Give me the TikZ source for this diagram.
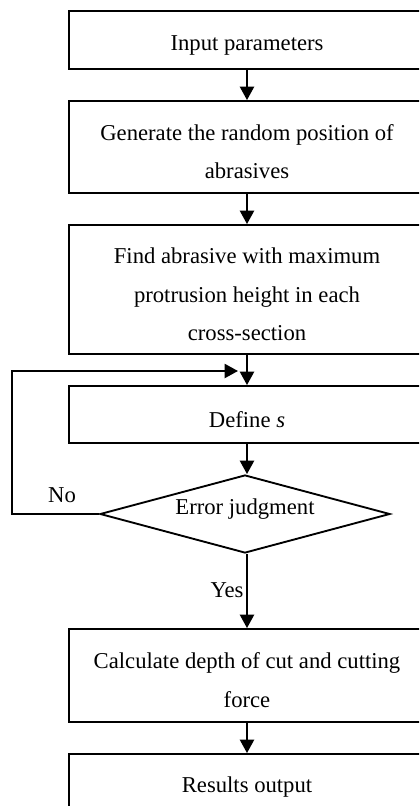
\documentclass[tikz,border=0pt]{standalone}
\usepackage{fontspec}
\setmainfont{Liberation Serif}
\usetikzlibrary{shapes.geometric,arrows.meta}
\newcommand{\topgap}{\rule{0pt}{19pt}}
\begin{document}
\begin{tikzpicture}[x=0.75pt,y=-0.75pt,
  every node/.style={font=\fontsize{17}{29}\selectfont},
  stepbox/.style={draw,line width=1.4pt,rectangle,minimum width=267pt,inner sep=0pt,align=center},
  decision/.style={draw,line width=1.4pt,diamond,aspect=3.72,minimum width=217.5pt,minimum height=58.5pt,inner sep=0pt,text height=11.5pt,text depth=11.5pt},
  flow/.style={line width=1.6pt,-{Triangle[length=10pt,width=10.5pt]}},
  lbl/.style={inner sep=0pt}]
\useasboundingbox (0,0) rectangle (419,806);
\clip (0,0) rectangle (419,806);
\node[stepbox,minimum height=43.5pt] (b1) at (247,40) {\topgap Input parameters};
\node[stepbox,minimum height=69pt] (b2) at (247,147) {\topgap Generate the random position of\\abrasives};
\node[stepbox,minimum height=96.75pt] (b3) at (247,289.5) {\topgap Find abrasive with maximum\\protrusion height in each\\cross-section};
\node[stepbox,minimum height=42.75pt] (b4) at (247,414.5) {\topgap Define \textit{s}};
\node[decision] (dia) at (245,514) {Error judgment};
\node[stepbox,minimum height=69.75pt] (b5) at (247,675.5) {\topgap Calculate depth of cut and cutting\\force};
\node[stepbox,minimum height=42pt] (b6) at (247,782) {\topgap Results output};
\coordinate (m) at (238,371);
\coordinate (lt) at (12,371);
\draw[flow] (b1.south) -- (b2.north);
\draw[flow] (b2.south) -- (b3.north);
\draw[flow] (b3.south) -- (b4.north);
\draw[flow] (b4.south) -- (b4.south |- dia.north);
\draw[flow] (dia.south -| b5.north) -- (b5.north);
\draw[flow] (b5.south) -- (b6.north);
\draw[flow] (dia.west) -| (lt) -- (m);
\node[lbl] (no) at (62,495) {No};
\node[lbl] (yes) at (227,590) {Yes};
\end{tikzpicture}
\end{document}
